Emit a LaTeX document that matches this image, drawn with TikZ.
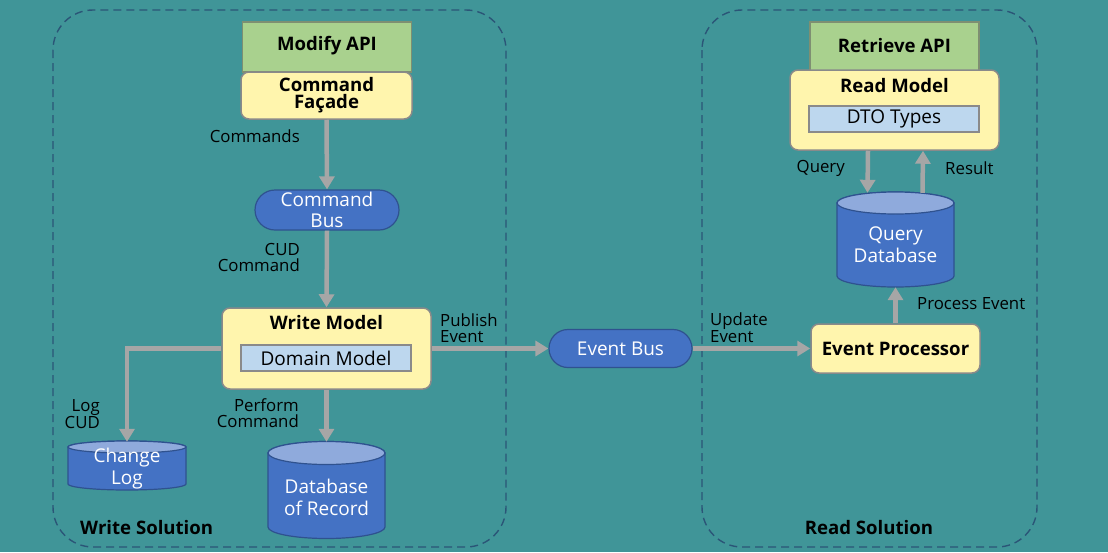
\documentclass[tikz,border=0pt]{standalone}
\usepackage{fontspec}
\setmainfont{Open Sans}
\usetikzlibrary{arrows.meta,shapes.misc}
\definecolor{bgc}{HTML}{409598}
\definecolor{dashc}{HTML}{2B5577}
\definecolor{apic}{HTML}{A9D18E}
\definecolor{apib}{HTML}{7E8F72}
\definecolor{yelc}{HTML}{FFF5AD}
\definecolor{greyb}{HTML}{8A8A8A}
\definecolor{innc}{HTML}{BDD7EE}
\definecolor{bluec}{HTML}{4472C4}
\definecolor{blueb}{HTML}{2F528F}
\definecolor{cyltopc}{HTML}{8FAADC}
\definecolor{arrc}{HTML}{A6A6A6}
\newcommand\mycylinder[5]{%
  \pgfmathsetmacro\rxx{(#2-#1)/2}%
  \pgfmathsetmacro\cxx{(#1+#2)/2}%
  \filldraw[cylbody] (#1,#3) -- (#1,#4) arc[start angle=180,end angle=0,x radius=\rxx,y radius=#5] -- (#2,#3) arc[start angle=0,end angle=-180,x radius=\rxx,y radius=#5] -- cycle;
  \filldraw[cyltop] (\cxx,#3) ellipse[x radius=\rxx,y radius=#5];
}
\begin{document}
\begin{tikzpicture}[x=1pt,y=-1pt,
  lbl/.style={font=\fontsize{16.8}{16}\selectfont, text=black, inner sep=0pt},
  ttl/.style={font=\bfseries\fontsize{18.6}{17}\selectfont, text=black, inner sep=0pt, align=center},
  sol/.style={draw=dashc, dash pattern=on 8pt off 5pt, line width=1.4pt, rounded corners=40pt},
  api/.style={chamfered rectangle, chamfered rectangle corners={north west,north east}, chamfered rectangle xsep=7pt, fill=apic, draw=apib, line width=1.2pt, inner sep=0pt},
  ybox/.style={rectangle, rounded corners=8pt, fill=yelc, draw=greyb, line width=1.5pt, inner sep=0pt},
  inbox/.style={rectangle, fill=innc, draw=greyb, line width=1.5pt, inner sep=0pt, font=\fontsize{19}{20}\selectfont},
  bus/.style={rounded rectangle, fill=bluec, draw=blueb, line width=1.2pt, inner sep=0pt, text=white, align=center, font=\fontsize{19}{21}\selectfont},
  dbnode/.style={rectangle, inner sep=0pt, text=white, align=center, font=\fontsize{19}{22}\selectfont},
  cylbody/.style={fill=bluec, draw=blueb, line width=1.2pt},
  cyltop/.style={fill=cyltopc, draw=blueb, line width=1.2pt},
  arr/.style={draw=arrc, line width=4.5pt, -{Triangle[width=15pt,length=13pt]}}
]
\useasboundingbox (0,0) rectangle (1108,552);
\fill[bgc] (0,0) rectangle (1108,552);

% solution areas
\draw[sol] (53,10) rectangle (506,547);
\draw[sol] (702,10) rectangle (1037,547);
\node[ttl, anchor=west] (wsol) at (80,528) {Write Solution};
\node[ttl] (rsol) at (869,528) {Read Solution};

% write side
\node[api, minimum width=169, minimum height=50] (modapi) at (327,47) {};
\node[ttl] (modapit) at (327,46) {Modify API};
\node[ybox, minimum width=171, minimum height=47, ttl] (facade) at (326.5,95.5) {Command\\Façade};
\node[bus, minimum width=144, minimum height=40] (cbus) at (327,210) {Command\\Bus};
\node[ybox, minimum width=209, minimum height=81] (writem) at (326.5,348.5) {};
\node[ttl] (writemt) at (326.5,323) {Write Model};
\node[inbox, minimum width=170, minimum height=26] (dommod) at (326,358) {Domain Model};

\mycylinder{68}{186}{447}{484}{6}
\node[dbnode, minimum width=118, minimum height=48] (clog) at (127,466) {};
\node[dbnode] (clogt) at (127,469) {Change\\Log};
\mycylinder{268}{385}{453}{527}{11.5}
\node[dbnode, minimum width=117, minimum height=96] (dbr) at (326.5,490) {};
\node[dbnode] (dbrt) at (326.5,497) {Database\\of Record};

% middle
\node[bus, minimum width=143, minimum height=38] (ebus) at (620.5,348.5) {Event Bus};

% read side
\node[ybox, minimum width=169, minimum height=49, ttl] (eproc) at (895.5,348.5) {Event Processor};
\mycylinder{837}{954}{203}{276}{11}
\node[dbnode, minimum width=117, minimum height=94] (qdb) at (895.5,240) {};
\node[dbnode] (qdbt) at (895.5,245) {Query\\Database};
\node[api, minimum width=169, minimum height=50] (retapi) at (894.5,47) {};
\node[ttl] (retapit) at (894.5,46) {Retrieve API};
\node[ybox, minimum width=209, minimum height=80] (readm) at (894.5,110) {};
\node[ttl] (readmt) at (894.5,86) {Read Model};
\node[inbox, minimum width=170, minimum height=26] (dto) at (894,119) {DTO Types};

% connectors
\draw[arr] (facade.south) -- (cbus.north);
\draw[arr] (cbus.south) -- (writem.north);
\draw[arr] (writem.west) -| (clog.north);
\draw[arr] (writem.south) -- (dbr.north);
\draw[arr] (writem.east) -- (ebus.west);
\draw[arr] (ebus.east) -- (eproc.west);
\draw[arr] (eproc.north) -- (qdb.south);
\draw[arr] ([xshift=-26.5pt]readm.south) -- ([xshift=-28pt]qdb.north);
\draw[arr] ([xshift=27pt]qdb.north) -- ([xshift=28.5pt]readm.south);

% labels
\node[lbl, anchor=east] (lcmds) at (300,136) {Commands};
\node[lbl, anchor=east, align=right] (lcud) at (300,257) {CUD\\Command};
\node[lbl, anchor=east, align=right] (llog) at (100,414) {Log\\CUD};
\node[lbl, anchor=east, align=right] (lperf) at (299,413) {Perform\\Command};
\node[lbl, anchor=west, align=left] (lpub) at (440,328) {Publish\\Event};
\node[lbl, anchor=west, align=left] (lupd) at (710,328) {Update\\Event};
\node[lbl, anchor=west] (lproc) at (917,304) {Process Event};
\node[lbl, anchor=east] (lquery) at (845,168) {Query};
\node[lbl, anchor=west] (lres) at (945,168) {Result};
\end{tikzpicture}
\end{document}
